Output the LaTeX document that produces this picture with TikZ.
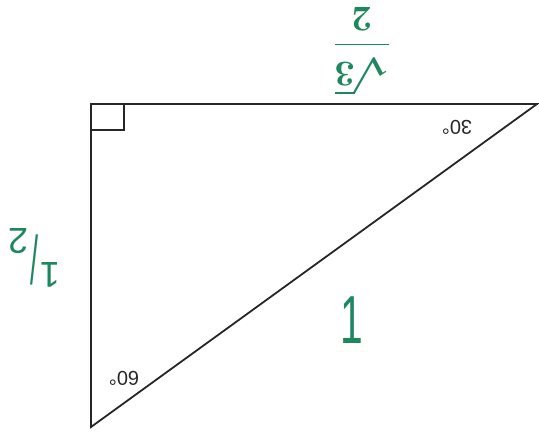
\documentclass[tikz,border=0pt]{standalone}
\usepackage{amsmath}
\usepackage{fontspec}
\newfontfamily\handfont{Liberation Sans}
\definecolor{pen}{RGB}{30,135,95}
\newcommand{\halfnum}{\raisebox{0.75em}{1}\kern0.05em\scalebox{0.8}[1.9]{/}\kern0.05em\raisebox{-0.2em}{2}}
\newcommand{\onenum}{\scalebox{0.6}[1]{\rotatebox{180}{1}}}
\newcommand{\rootnum}{\scalebox{1.45}{\boldmath$\dfrac{\sqrt{3}}{2}$}}
\begin{document}
\begin{tikzpicture}[x=1pt,y=-1pt,
  edge/.style={line width=1.8pt,black!85},
  angle/.style={font=\handfont\fontsize{20}{22}\selectfont,rotate=180,inner sep=0pt,text=black!85},
  hand/.style={text=pen,inner sep=0pt,rotate=180}]
\useasboundingbox (0,0) rectangle (539,434);
\coordinate (R) at (91,104);
\coordinate (T) at (537,104);
\coordinate (B) at (91,427);
\draw[edge] (R) -- (T) -- (B) -- cycle;
\draw[line width=1.4pt,black!85] (91,130) -- (124,130) -- (124,104);
\node[angle] (a30) at (457,127) {30°};
\node[angle] (a60) at (124,378) {60°};
\node[hand,font=\handfont\fontsize{68}{68}\selectfont] (hyp) at (352,320) {\onenum};
\node[hand,font=\handfont\fontsize{36}{36}\selectfont] (half) at (34,258) {\halfnum};
\node[hand,font={\fontsize{24}{28}\selectfont}] (root) at (362,52) {\rootnum};
\end{tikzpicture}
\end{document}
